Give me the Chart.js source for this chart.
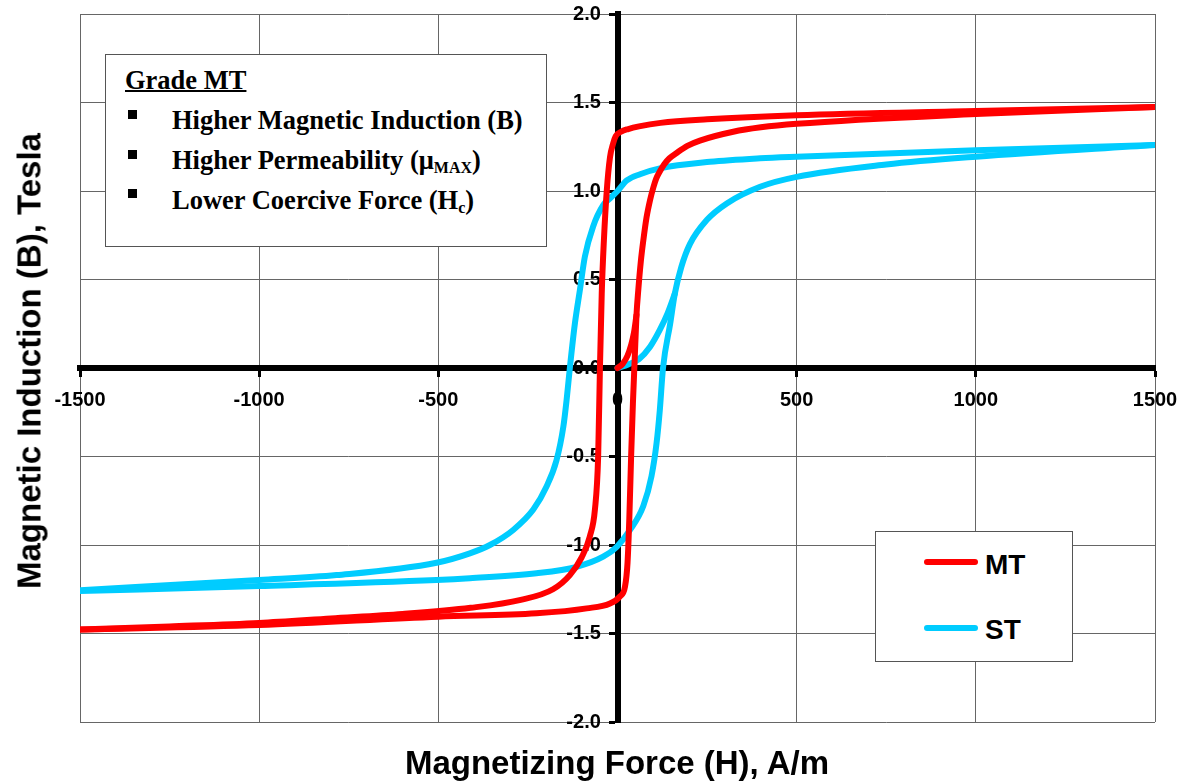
<!DOCTYPE html>
<html>
<head>
<meta charset="utf-8">
<script src="https://cdn.jsdelivr.net/npm/chart.js@4.4.1/dist/chart.umd.min.js"></script>
<style>
  body { margin: 0; background: #fff; }
  #wrap { position: relative; width: 1191px; height: 784px; overflow: hidden; }
  #chart { position: absolute; left: 0; top: 0; }
  .ttl { position: absolute; font: bold 33px "Liberation Sans", Arial, sans-serif; line-height: 33px; white-space: nowrap; color: #000; }
  #xTitle { left: 617px; top: 746px; transform: translateX(-50%); }
  #yTitle { left: 29px; top: 361px; transform: translate(-50%, -50%) rotate(-90deg); }
  .box { position: absolute; background: #fff; border: 1.5px solid #555; box-sizing: border-box; }
  #note { left: 105px; top: 54px; width: 442px; height: 193px; }
  .nt { position: absolute; font: bold 26.5px "Liberation Serif", "Times New Roman", serif; line-height: 26px; white-space: nowrap; color: #000; }
  .nt sub { font-size: 16px; vertical-align: -4px; line-height: 0; }
  .sq { position: absolute; width: 9px; height: 9px; background: #000; }
  #leg { left: 875px; top: 531px; width: 198px; height: 131px; }
  .ln { position: absolute; width: 54px; height: 6px; border-radius: 3px; }
  .lt { position: absolute; font: bold 28px "Liberation Sans", Arial, sans-serif; line-height: 28px; color: #000; }
</style>
</head>
<body>
<div id="wrap">
  <canvas id="chart" width="1191" height="784"></canvas>
  <div class="ttl" id="xTitle">Magnetizing Force (H), A/m</div>
  <div class="ttl" id="yTitle">Magnetic Induction (B), Tesla</div>

  <div class="box" id="note"></div>
  <div class="nt" style="left:125px;top:67px;text-decoration:underline;text-decoration-thickness:2px;">Grade MT</div>
  <div class="sq" style="left:128px;top:110px;"></div>
  <div class="nt" style="left:172px;top:107px;">Higher Magnetic Induction (B)</div>
  <div class="sq" style="left:128px;top:150px;"></div>
  <div class="nt" style="left:172px;top:147px;">Higher Permeability (μ<sub>MAX</sub>)</div>
  <div class="sq" style="left:128px;top:189px;"></div>
  <div class="nt" style="left:172px;top:187px;">Lower Coercive Force (H<sub>c</sub>)</div>

  <div class="box" id="leg"></div>
  <div class="ln" style="left:924px;top:559px;background:#ff0000;"></div>
  <div class="lt" style="left:985px;top:551px;">MT</div>
  <div class="ln" style="left:924px;top:625px;background:#00ccff;"></div>
  <div class="lt" style="left:985px;top:616px;">ST</div>
</div>

<script>
// axis ticks
const xTicks = [-1500, -1000, -500, 0, 500, 1000, 1500];
const yTicks = [-2.0, -1.5, -1.0, -0.5, 0.0, 0.5, 1.0, 1.5, 2.0];

// MT (red) - descending branch, +1500 -> -1500
const mtDownH = [1500, 1000, 500, 250, 120, 60, 30, 10, -5, -12, -21, -30, -38, -44, -49, -54, -63, -77, -100, -133, -180, -270, -410, -600, -800, -1000, -1250, -1500];
const mtDownB = [1.475, 1.452, 1.428, 1.405, 1.385, 1.365, 1.35, 1.335, 1.31, 1.27, 1.19, 1.0, 0.72, 0.42, 0.0, -0.5, -0.8, -0.95, -1.07, -1.17, -1.25, -1.31, -1.355, -1.39, -1.415, -1.44, -1.46, -1.478];
// MT ascending branch, -1500 -> +1500
const mtUpH = [-1500, -1000, -500, -226, -86, -21, 7, 21, 28, 33, 38, 43, 48, 53, 58, 65, 72, 81, 91, 100, 108, 118, 130, 145, 165, 195, 230, 323, 400, 500, 1000, 1500];
const mtUpB = [-1.478, -1.452, -1.405, -1.386, -1.358, -1.33, -1.29, -1.235, -1.1, -0.85, -0.5, -0.2, 0.05, 0.3, 0.44, 0.6, 0.72, 0.85, 0.95, 1.02, 1.07, 1.11, 1.15, 1.185, 1.215, 1.255, 1.285, 1.335, 1.36, 1.38, 1.435, 1.475];
// MT initial magnetization
const mtInitH = [0, 15, 28, 38, 46, 53];
const mtInitB = [0, 0.025, 0.07, 0.13, 0.2, 0.3];

// ST (blue) - descending branch
const stDownH = [1500, 1000, 500, 398, 258, 118, 63, 26, 0, -20, -40, -68, -91, -105, -119, -133, -142, -151, -170, -198, -235, -291, -356, -412, -505, -784, -1000, -1500];
const stDownB = [1.26, 1.23, 1.194, 1.185, 1.165, 1.128, 1.095, 1.06, 1.0, 0.96, 0.92, 0.8, 0.63, 0.44, 0.25, 0.0, -0.18, -0.33, -0.52, -0.67, -0.8, -0.915, -1.0, -1.047, -1.1, -1.17, -1.198, -1.255];
// ST ascending branch
const stUpH = [-1500, -1000, -505, -412, -226, -114, -40, -2, 35, 72, 95, 109, 118, 127, 147, 160, 178, 202, 249, 305, 398, 500, 750, 1000, 1500];
const stUpB = [-1.26, -1.232, -1.198, -1.188, -1.16, -1.123, -1.066, -1.01, -0.915, -0.78, -0.61, -0.425, -0.24, 0.0, 0.25, 0.42, 0.57, 0.7, 0.836, 0.93, 1.024, 1.08, 1.15, 1.194, 1.26];
// ST initial magnetization
const stInitH = [0, 30, 60, 91, 118, 140, 160];
const stInitB = [0, 0.02, 0.05, 0.12, 0.215, 0.31, 0.42];

const MT_COLOR = '#ff0000';
const ST_COLOR = '#00ccff';

const pts = (hs, bs) => hs.map((h, i) => ({ x: h, y: bs[i] }));

const line = (label, hs, bs, color, order) => ({
  label: label,
  data: pts(hs, bs),
  showLine: true,
  borderColor: color,
  backgroundColor: color,
  borderWidth: 6,
  pointRadius: 0,
  cubicInterpolationMode: 'monotone',
  borderCapStyle: 'round',
  borderJoinStyle: 'round',
  order: order
});

const tickFont = { family: '"Liberation Sans", Arial, sans-serif', size: 20, weight: 'bold' };

// axes sit on the zero lines, so they should not take room from the plot
const noRoomX = axis => { axis.height = 0; axis.paddingLeft = 0; axis.paddingRight = 0; };
const noRoomY = axis => { axis.width = 0; axis.paddingTop = 0; axis.paddingBottom = 0; };

new Chart(document.getElementById('chart'), {
  type: 'scatter',
  data: {
    datasets: [
      line('MT', mtDownH, mtDownB, MT_COLOR, 1),
      line('MT', mtUpH, mtUpB, MT_COLOR, 1),
      line('MT', mtInitH, mtInitB, MT_COLOR, 1),
      line('ST', stDownH, stDownB, ST_COLOR, 2),
      line('ST', stUpH, stUpB, ST_COLOR, 2),
      line('ST', stInitH, stInitB, ST_COLOR, 2)
    ]
  },
  options: {
    responsive: false,
    animation: false,
    devicePixelRatio: 1,
    layout: { padding: { left: 80, right: 36, top: 14, bottom: 62 } },
    plugins: { legend: { display: false }, tooltip: { enabled: false } },
    scales: {
      x: {
        type: 'linear',
        position: { y: 0 },
        min: xTicks[0],
        max: xTicks[xTicks.length - 1],
        afterBuildTicks: axis => { axis.ticks = xTicks.map(v => ({ value: v })); },
        afterFit: noRoomX,
        ticks: { font: tickFont, color: '#000', padding: 14, maxRotation: 0, autoSkip: false, callback: v => String(v) },
        grid: { color: '#666', lineWidth: 1, drawTicks: true, tickLength: 6, tickColor: '#000', tickWidth: 3 },
        border: { color: '#000', width: 6 }
      },
      y: {
        type: 'linear',
        position: { x: 0 },
        min: yTicks[0],
        max: yTicks[yTicks.length - 1],
        afterBuildTicks: axis => { axis.ticks = yTicks.map(v => ({ value: v })); },
        afterFit: noRoomY,
        // trailing spaces keep the right-aligned labels off the axis line
        ticks: { font: tickFont, color: '#000', padding: 12, autoSkip: false, callback: v => v.toFixed(1) + '   ' },
        grid: { color: '#666', lineWidth: 1, drawTicks: true, tickLength: 6, tickColor: '#000', tickWidth: 3 },
        border: { color: '#000', width: 6 }
      }
    }
  }
});
</script>
</body>
</html>
